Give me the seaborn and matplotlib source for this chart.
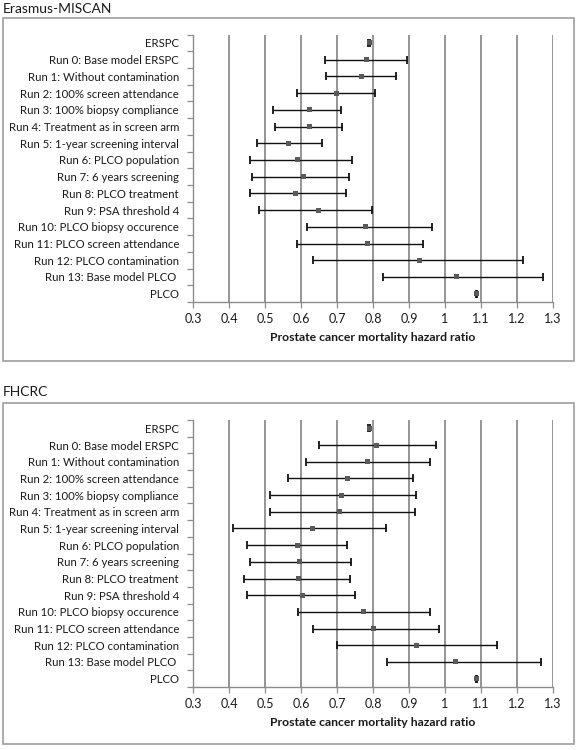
import numpy as np
import pandas as pd
import matplotlib
matplotlib.use('Agg')
import matplotlib.pyplot as plt
import seaborn as sns
from matplotlib.patches import Rectangle

# data
labels = ['ERSPC', 'Run 0: Base model ERSPC', 'Run 1: Without contamination',
          'Run 2: 100% screen attendance', 'Run 3: 100% biopsy compliance',
          'Run 4: Treatment as in screen arm', 'Run 5: 1-year screening interval',
          'Run 6: PLCO population', 'Run 7: 6 years screening',
          'Run 8: PLCO treatment', 'Run 9: PSA threshold 4',
          'Run 10: PLCO biopsy occurence', 'Run 11: PLCO screen attendance',
          'Run 12: PLCO contamination', 'Run 13: Base model PLCO ', 'PLCO']

miscan_hr = [0.789, 0.782, 0.767, 0.699, 0.624, 0.623, 0.565, 0.589, 0.607,
             0.584, 0.648, 0.780, 0.784, 0.929, 1.033, 1.088]
miscan_lo = [0.786, 0.668, 0.669, 0.589, 0.522, 0.528, 0.478, 0.457, 0.464,
             0.459, 0.483, 0.617, 0.590, 0.634, 0.827, 1.086]
miscan_hi = [0.792, 0.895, 0.863, 0.805, 0.712, 0.715, 0.659, 0.741, 0.733,
             0.724, 0.796, 0.963, 0.939, 1.216, 1.272, 1.090]

fhcrc_hr = [0.789, 0.810, 0.786, 0.730, 0.713, 0.708, 0.632, 0.590, 0.595,
            0.592, 0.604, 0.773, 0.802, 0.920, 1.028, 1.088]
fhcrc_lo = [0.786, 0.650, 0.614, 0.563, 0.514, 0.514, 0.412, 0.449, 0.458,
            0.443, 0.450, 0.591, 0.632, 0.700, 0.839, 1.086]
fhcrc_hi = [0.792, 0.975, 0.958, 0.911, 0.919, 0.916, 0.837, 0.728, 0.739,
            0.737, 0.750, 0.959, 0.984, 1.145, 1.266, 1.090]

titles = ['Erasmus-MISCAN', 'FHCRC']
xticks = [0.3, 0.4, 0.5, 0.6, 0.7, 0.8, 0.9, 1.0, 1.1, 1.2, 1.3]
xticklabels = ['0.3', '0.4', '0.5', '0.6', '0.7', '0.8', '0.9', '1', '1.1', '1.2', '1.3']

sns.set_style('white')
plt.rcParams['font.family'] = ['Lato', 'DejaVu Sans']

fig = plt.figure(figsize=(5.79, 7.5), dpi=100)

W, H = 579, 750
# axes rectangles in pixels: (left, top, right, bottom)
axes_px = [(193, 34.6, 553, 302), (193, 420, 553, 687)]
boxes_px = [(3, 18, 574, 361), (3, 403, 574, 744)]
title_px = [(3, 9), (3, 392)]

grid_col = '#8c8c8c'
txt_col = '#1a1a1a'

panels = [(miscan_hr, miscan_lo, miscan_hi), (fhcrc_hr, fhcrc_lo, fhcrc_hi)]

for i, (hr, lo, hi) in enumerate(panels):
    l, t, r, b = axes_px[i]
    ax = fig.add_axes([l / W, 1 - b / H, (r - l) / W, (b - t) / H])
    df = pd.DataFrame({'label': labels, 'hr': hr, 'lo': lo, 'hi': hi})
    df['pos'] = np.arange(len(df))

    for x in xticks[1:]:
        ax.axvline(x, color=grid_col, lw=1.3, zorder=0)

    err = np.vstack([df.hr - df.lo, df.hi - df.hr])
    ax.errorbar(df.hr, df.pos, xerr=err, fmt='none', ecolor='#111111',
                elinewidth=1.0, capsize=3.2, capthick=1.3, zorder=2)
    sns.scatterplot(data=df, x='hr', y='pos', marker='s', s=13,
                    color='#5a5a5a', edgecolor='none', ax=ax, zorder=3,
                    legend=False)

    ax.set_xlim(0.3, 1.3)
    ax.set_ylim(len(df) - 0.5, -0.5)
    ax.set_xticks(xticks)
    ax.set_xticklabels(xticklabels, fontsize=9, color=txt_col)
    ax.set_yticks(df.pos)
    ax.set_yticklabels(df.label, fontsize=8.2, color=txt_col)
    ax.set_yticks(np.arange(len(df) + 1) - 0.5, minor=True)
    ax.tick_params(axis='y', which='major', length=0, pad=10)
    ax.tick_params(axis='y', which='minor', length=4, width=0.9, color=grid_col,
                   direction='out', left=True)
    ax.tick_params(axis='x', which='major', length=4, width=0.9, color=grid_col,
                   direction='out', bottom=True, pad=4)
    ax.set_xlabel('Prostate cancer mortality hazard ratio', fontsize=8.8,
                  fontweight='bold', color=txt_col, labelpad=5)
    ax.set_ylabel('')
    for side in ['top', 'right']:
        ax.spines[side].set_visible(False)
    for side in ['left', 'bottom']:
        ax.spines[side].set_color(grid_col)
        ax.spines[side].set_linewidth(1.0)

    bl, bt, br, bb = boxes_px[i]
    fig.add_artist(Rectangle((bl / W, 1 - bb / H), (br - bl) / W, (bb - bt) / H,
                             transform=fig.transFigure, fill=False,
                             edgecolor='#a6a6a6', lw=1.3))
    tx, ty = title_px[i]
    fig.text(tx / W, 1 - ty / H, titles[i], fontsize=10, color=txt_col,
             ha='left', va='center')

fig.savefig('out.png', dpi=100)
